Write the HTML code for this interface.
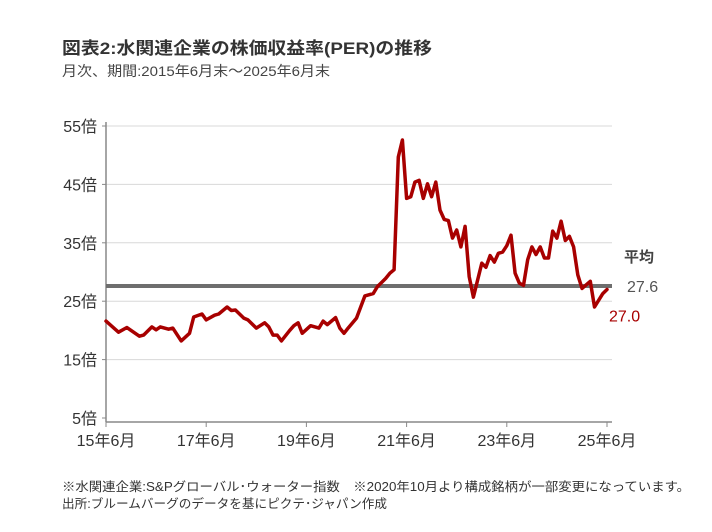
<!DOCTYPE html>
<html><head><meta charset="utf-8"><style>
body{margin:0;background:#fff;font-family:"Liberation Sans","Noto Sans CJK JP",sans-serif;}
#wrap{position:relative;width:712px;height:532px;overflow:hidden;}
</style></head><body>
<div id="wrap">
<svg id="svg" width="712" height="532" xmlns="http://www.w3.org/2000/svg" font-family="Liberation Sans, Noto Sans CJK JP, sans-serif">
<text x="62" y="54" font-size="17" font-weight="bold" fill="#333" textLength="370" lengthAdjust="spacingAndGlyphs">図表2:水関連企業の株価収益率(PER)の推移</text>
<text x="62" y="76" font-size="14" fill="#444" textLength="268" lengthAdjust="spacingAndGlyphs">月次、期間:2015年6月末～2025年6月末</text>
<text x="62" y="491" font-size="12.5" fill="#333" textLength="628" lengthAdjust="spacingAndGlyphs">※水関連企業:S&amp;Pグローバル･ウォーター指数　※2020年10月より構成銘柄が一部変更になっています。</text>
<text x="62" y="508" font-size="12.5" fill="#333" textLength="325" lengthAdjust="spacingAndGlyphs">出所:ブルームバーグのデータを基にピクテ･ジャパン作成</text>
<g id="grid"></g><g id="axes"></g><g id="series"></g>
</svg>
</div>
<script>
const yTicks=[5,15,25,35,45,55];
const xTickMonths=[0,24,48,72,96,120];
const xTickLabels=["15年6月","17年6月","19年6月","21年6月","23年6月","25年6月"];
const months=[0,3,5,8,9,11,12,13,15,16,18,20,21,23,24,26,27,29,30,31,33,34,36,38,39,40,41,42,44,45,46,47,49,51,52,53,55,56,57,58,60,62,64,65,67,68,69,70,71,72,73,74,75,76,77,78,79,80,81,82,83,84,85,86,87,88,90,91,92,93,94,95,96,97,98,99,100,101,102,103,104,105,106,107,108,109,110,111,112,113,114,116,117,119,120];
const values=[21.6,19.7,20.5,19.0,19.2,20.6,20.1,20.6,20.2,20.4,18.2,19.5,22.3,22.8,21.8,22.6,22.8,24.0,23.4,23.5,22.1,21.8,20.4,21.3,20.6,19.2,19.2,18.2,20.0,20.8,21.3,19.5,20.8,20.4,21.6,21.0,22.2,20.4,19.5,20.4,22.1,25.9,26.3,27.5,28.9,29.8,30.4,49.7,52.6,42.6,42.9,45.4,45.7,42.6,45.1,42.9,45.4,40.6,39.0,38.8,35.8,37.2,34.3,37.8,29.2,25.7,31.5,30.8,32.8,31.7,33.2,33.4,34.5,36.3,29.8,28.1,27.7,32.1,34.3,33.0,34.3,32.4,32.4,37.0,35.8,38.7,35.4,36.1,34.3,29.5,27.2,28.4,24.0,26.3,27.0];
const average=27.6;
const lastValue=27.0;
const X0=106,X1=607,Y55=126,Y5=418;
const xs=m=>X0+(X1-X0)*m/120;
const ys=v=>Y5-(Y5-Y55)*(v-5)/50;
const NS="http://www.w3.org/2000/svg";
function mk(tag,attrs,parent,text){const e=document.createElementNS(NS,tag);for(const k in attrs)e.setAttribute(k,attrs[k]);if(text!==undefined)e.textContent=text;document.getElementById(parent).appendChild(e);return e;}
yTicks.forEach(t=>{
  if(t>5){const g=mk('line',{x1:X0,x2:612,y1:ys(t),y2:ys(t),stroke:'#d8d8d8','stroke-width':1},'grid');
  
  }
  const tk=mk('line',{x1:X0-4,x2:X0,y1:ys(t),y2:ys(t),stroke:'#888'},'axes');
  
  
  const l=mk('text',{x:97,y:ys(t)+6,'text-anchor':'end','font-size':'16',fill:'#333'},'axes',t+'倍');
  
  
});
const ya=mk('line',{x1:X0,x2:X0,y1:Y55-4,y2:Y5+4,stroke:'#888','stroke-width':1.5},'axes');


const xa=mk('line',{x1:X0,x2:612,y1:Y5+4,y2:Y5+4,stroke:'#888','stroke-width':1.5},'axes');


xTickMonths.forEach((m,i)=>{
  const tk=mk('line',{x1:xs(m),x2:xs(m),y1:Y5+4,y2:Y5+9,stroke:'#888'},'axes');
  
  
  const l=mk('text',{x:xs(m),y:Y5+28,'text-anchor':'middle','font-size':'16',fill:'#333'},'axes',xTickLabels[i]);
  
  
});
const av=mk('line',{x1:X0,x2:612,y1:ys(average),y2:ys(average),stroke:'#6e6e6e','stroke-width':4},'series');


const d=months.map((m,i)=>(i?'L':'M')+xs(m).toFixed(1)+','+ys(values[i]).toFixed(1)).join(' ');
const p=mk('path',{d:d,fill:'none',stroke:'#a80000','stroke-width':3.5,'stroke-linejoin':'round','stroke-linecap':'round'},'series');


const a1=mk('text',{x:624,y:ys(average)-24,'font-size':'15','font-weight':'bold',fill:'#444'},'series','平均');


const a2=mk('text',{x:627,y:ys(average)+6,'font-size':'16',fill:'#555'},'series',average.toFixed(1));


const a3=mk('text',{x:609,y:ys(lastValue)+32,'font-size':'16',fill:'#a80000'},'series',lastValue.toFixed(1));


</script>
</body></html>
